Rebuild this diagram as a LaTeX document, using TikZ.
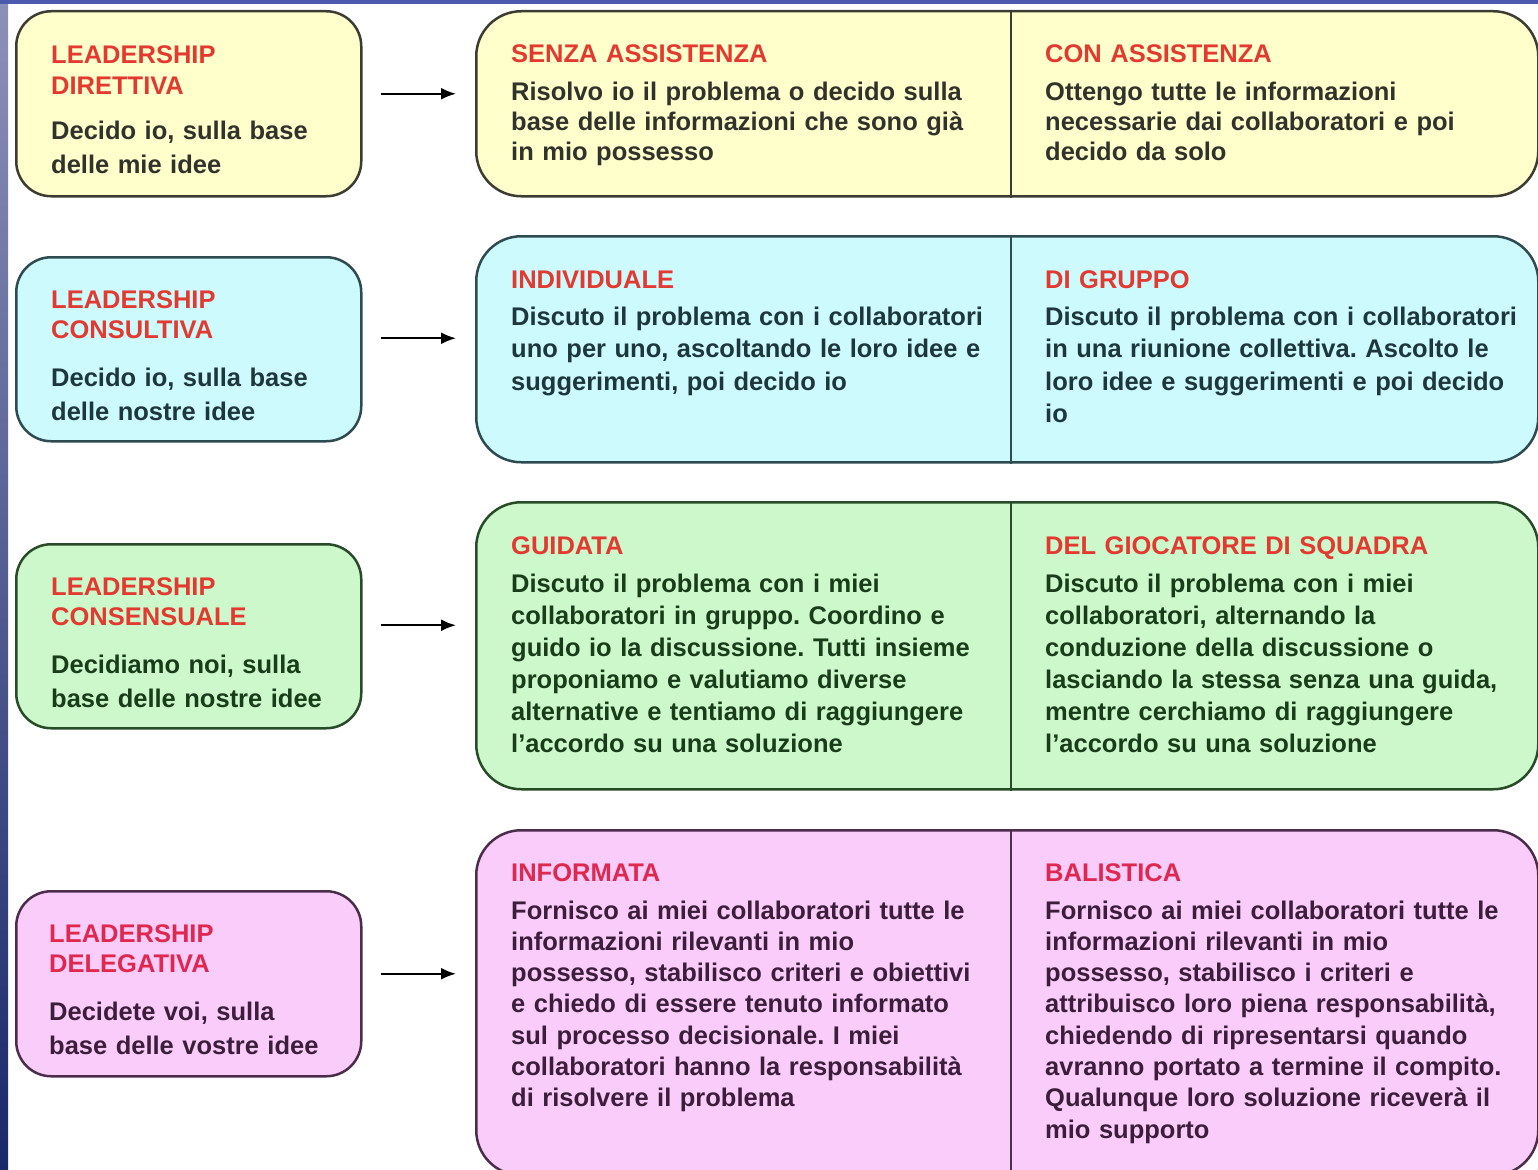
\documentclass[tikz,border=0pt]{standalone}
\usepackage{fontspec}
\setmainfont{Liberation Sans}
\newfontfamily\dfont{Liberation Sans}
\usetikzlibrary{arrows.meta}
\frenchspacing
\definecolor{ttlred}{RGB}{226,58,48}
\definecolor{ttlpink}{RGB}{222,40,80}
\definecolor{yfill}{RGB}{255,255,204}
\definecolor{bfill}{RGB}{204,250,253}
\definecolor{gfill}{RGB}{204,248,204}
\definecolor{pfill}{RGB}{250,204,250}
\definecolor{ydraw}{RGB}{60,60,50}
\definecolor{bdraw}{RGB}{45,75,80}
\definecolor{gdraw}{RGB}{40,75,40}
\definecolor{pdraw}{RGB}{75,45,75}
\definecolor{ytxt}{RGB}{50,50,45}
\definecolor{btxt}{RGB}{30,55,60}
\definecolor{gtxt}{RGB}{25,60,25}
\definecolor{ptxt}{RGB}{60,30,60}
\definecolor{striptop}{RGB}{140,145,185}
\definecolor{stripbot}{RGB}{25,40,105}
\definecolor{topstrip}{RGB}{75,90,175}
\tikzset{
  lbox/.style={draw, line width=2.5pt, rounded corners=35pt, anchor=north west, inner sep=0pt},
  rbox/.style={draw, line width=2.5pt, rounded corners=45pt, anchor=north west, inner sep=0pt},
  divider/.style={line width=2.5pt},
  ttl/.style={anchor=base west, inner sep=0pt, text width=520pt, align=left,
    font=\dfont\bfseries\fontsize{25.5}{30.5}\selectfont},
  txt/.style={anchor=base west, inner sep=0pt, text width=520pt, align=left},
  arr/.style={line width=2pt, -{Latex[length=15pt,width=12pt]}, shorten <=18pt, shorten >=19pt},
}
\newcommand{\bodyfont}[1]{\dfont\bfseries\fontsize{25.5}{#1}\selectfont\frenchspacing}
\begin{document}
\begin{tikzpicture}[x=1pt,y=-1pt]
\useasboundingbox (0,0) rectangle (1538,1169);
\clip (0,0) rectangle (1538,1169);
\fill[white] (0,0) rectangle (1538,1169);
\fill[top color=striptop, bottom color=stripbot] (0,0) rectangle (8,1169);
\fill[topstrip] (0,0) rectangle (1538,4);

% left boxes
\node[lbox, fill=yfill, draw=ydraw, minimum width=345pt, minimum height=185pt] (l1) at (15,10) {};
\node[lbox, fill=bfill, draw=bdraw, minimum width=345pt, minimum height=184pt] (l2) at (15,256) {};
\node[lbox, fill=gfill, draw=gdraw, minimum width=345pt, minimum height=184pt] (l3) at (15,543) {};
\node[lbox, fill=pfill, draw=pdraw, minimum width=345pt, minimum height=185pt] (l4) at (15,890) {};

% right boxes
\node[rbox, fill=yfill, draw=ydraw, minimum width=1062pt, minimum height=185pt] (r1) at (475,10) {};
\node[rbox, fill=bfill, draw=bdraw, minimum width=1062pt, minimum height=226pt] (r2) at (475,235) {};
\node[rbox, fill=gfill, draw=gdraw, minimum width=1062pt, minimum height=287pt] (r3) at (475,501) {};
\node[rbox, fill=pfill, draw=pdraw, minimum width=1062pt, minimum height=345pt] (r4) at (475,829) {};

\coordinate (dx) at (1011,0);
\draw[divider, draw=ydraw] (r1.north -| dx) -- (r1.south -| dx);
\draw[divider, draw=bdraw] (r2.north -| dx) -- (r2.south -| dx);
\draw[divider, draw=gdraw] (r3.north -| dx) -- (r3.south -| dx);
\draw[divider, draw=pdraw] (r4.north -| dx) -- (r4.south -| dx);

% arrows
\draw[arr] ([yshift=10pt]l1.east) -- ([yshift=10pt]l1.east -| r1.west);
\draw[arr] ([yshift=11pt]l2.east) -- ([yshift=11pt]l2.east -| r2.west);
\draw[arr] ([yshift=11pt]l3.east) -- ([yshift=11pt]l3.east -| r3.west);
\draw[arr] ([yshift=10pt]l4.east) -- ([yshift=10pt]l4.east -| r4.west);

% left texts
\node[ttl, text=ttlred] (l1t) at (51,64) {LEADERSHIP\\DIRETTIVA};
\node[txt, text=ytxt, font=\bodyfont{34}] (l1b) at (51,140) {Decido io, sulla base\\delle mie idee};
\node[ttl, text=ttlred] (l2t) at (51,308) {LEADERSHIP\\CONSULTIVA};
\node[txt, text=btxt, font=\bodyfont{34}] (l2b) at (51,386) {Decido io, sulla base\\delle nostre idee};
\node[ttl, text=ttlred] (l3t) at (51,595) {LEADERSHIP\\CONSENSUALE};
\node[txt, text=gtxt, font=\bodyfont{34}] (l3b) at (51,673) {Decidiamo noi, sulla\\base delle nostre idee};
\node[ttl, text=ttlpink] (l4t) at (49,942) {LEADERSHIP\\DELEGATIVA};
\node[txt, text=ptxt, font=\bodyfont{34}] (l4b) at (49,1020) {Decidete voi, sulla\\base delle vostre idee};

% right texts row 1
\node[ttl, text=ttlred] (r1at) at (511,63) {SENZA ASSISTENZA};
\node[txt, text=ytxt, font=\bodyfont{30}] (r1ab) at (511,101) {Risolvo io il problema o decido sulla\\base delle informazioni che sono già\\in mio possesso};
\node[ttl, text=ttlred] (r1bt) at (1045,63) {CON ASSISTENZA};
\node[txt, text=ytxt, font=\bodyfont{30}] (r1bb) at (1045,101) {Ottengo tutte le informazioni\\necessarie dai collaboratori e poi\\decido da solo};

% row 2
\node[ttl, text=ttlred] (r2at) at (511,288) {INDIVIDUALE};
\node[txt, text=btxt, font=\bodyfont{32.5}] (r2ab) at (511,325) {Discuto il problema con i collaboratori\\uno per uno, ascoltando le loro idee e\\suggerimenti, poi decido io};
\node[ttl, text=ttlred] (r2bt) at (1045,288) {DI GRUPPO};
\node[txt, text=btxt, font=\bodyfont{32.5}] (r2bb) at (1045,325) {Discuto il problema con i collaboratori\\in una riunione collettiva. Ascolto le\\loro idee e suggerimenti e poi decido\\io};

% row 3
\node[ttl, text=ttlred] (r3at) at (511,554) {GUIDATA};
\node[txt, text=gtxt, font=\bodyfont{32}] (r3ab) at (511,592) {Discuto il problema con i miei\\collaboratori in gruppo. Coordino e\\guido io la discussione. Tutti insieme\\proponiamo e valutiamo diverse\\alternative e tentiamo di raggiungere\\l’accordo su una soluzione};
\node[ttl, text=ttlred] (r3bt) at (1045,554) {DEL GIOCATORE DI SQUADRA};
\node[txt, text=gtxt, font=\bodyfont{32}] (r3bb) at (1045,592) {Discuto il problema con i miei\\collaboratori, alternando la\\conduzione della discussione o\\lasciando la stessa senza una guida,\\mentre cerchiamo di raggiungere\\l’accordo su una soluzione};

% row 4
\node[ttl, text=ttlpink] (r4at) at (511,881) {INFORMATA};
\node[txt, text=ptxt, font=\bodyfont{31.3}] (r4ab) at (511,919) {Fornisco ai miei collaboratori tutte le\\informazioni rilevanti in mio\\possesso, stabilisco criteri e obiettivi\\e chiedo di essere tenuto informato\\sul processo decisionale. I miei\\collaboratori hanno la responsabilità\\di risolvere il problema};
\node[ttl, text=ttlpink] (r4bt) at (1045,881) {BALISTICA};
\node[txt, text=ptxt, font=\bodyfont{31.3}] (r4bb) at (1045,919) {Fornisco ai miei collaboratori tutte le\\informazioni rilevanti in mio\\possesso, stabilisco i criteri e\\attribuisco loro piena responsabilità,\\chiedendo di ripresentarsi quando\\avranno portato a termine il compito.\\Qualunque loro soluzione riceverà il\\mio supporto};
\end{tikzpicture}
\end{document}
